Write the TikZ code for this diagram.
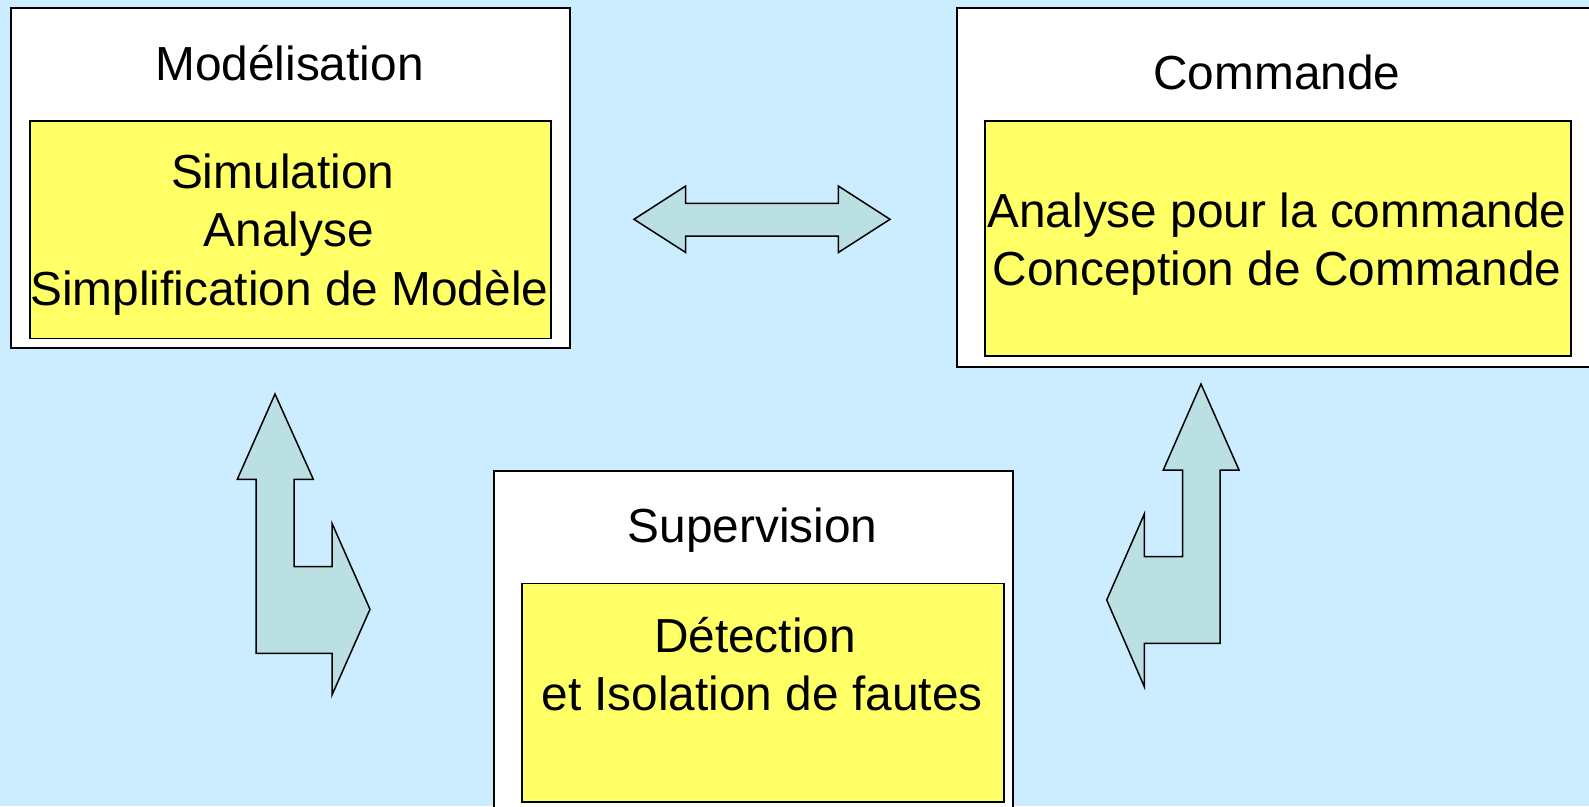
\documentclass[tikz,border=0pt]{standalone}
\usepackage{fontspec}
\setmainfont{Liberation Sans}
\definecolor{bgblue}{HTML}{CCECFF}
\definecolor{panelyellow}{HTML}{FFFF66}
\definecolor{arrowfill}{HTML}{BBE0E3}
\begin{document}
\begin{tikzpicture}[x=1pt,y=-1pt,
  outerbox/.style={draw=black, line width=2pt, fill=white, rectangle, inner sep=0pt, anchor=north west},
  innerbox/.style={draw=black, line width=1.5pt, fill=panelyellow, rectangle, inner sep=0pt, anchor=north west},
  label/.style={anchor=base, inner sep=0pt, font=\fontsize{47.8pt}{57.5pt}\selectfont},
  blockarrow/.style={draw=black, line width=1.5pt, fill=arrowfill, line join=miter}]
  % canvas
  \fill[bgblue] (0,0) rectangle (1589,806);
  \useasboundingbox (0,0) rectangle (1589,806);
  \clip (0,0) rectangle (1589,806);

  % Modelisation block
  \node[outerbox, minimum width=558.4pt, minimum height=340pt] (model) at (10.3,6.7) {};
  \node[innerbox, minimum width=520.7pt, minimum height=217.7pt] (modelin) at (29.3,120) {};
  \node[label] (modeltitle) at (289.5,80) {Modélisation};
  \node[label] (sim) at (282.7,188.3) {Simulation};
  \node[label] (ana) at (288.8,246.7) {Analyse};
  \node[label] (simp) at (289.3,305) {Simplification de Modèle};

  % Commande block
  \node[outerbox, minimum width=660pt, minimum height=359pt] (ctrl) at (956,6.7) {};
  \node[innerbox, minimum width=586pt, minimum height=235pt] (ctrlin) at (984,120) {};
  \node[label] (ctrltitle) at (1277,89.3) {Commande};
  \node[label] (ctrlana) at (1277,227.7) {Analyse pour la commande};
  \node[label] (ctrlconc) at (1277,285) {Conception de Commande};

  % Supervision block
  \node[outerbox, minimum width=519.6pt, minimum height=380pt] (sup) at (492.7,470) {};
  \node[innerbox, minimum width=482.3pt, minimum height=218.3pt] (supin) at (521,582.7) {};
  \node[label] (suptitle) at (752.5,542.7) {Supervision};
  \node[label] (det) at (755,652.7) {Détection};
  \node[label] (iso) at (762,710) {et Isolation de fautes};

  % two-headed arrow between Modelisation and Commande
  \draw[blockarrow] (634,219.3) -- (685.7,186) -- (685.7,203.3) -- (838.3,203.3)
    -- (838.3,186) -- (890,219.3) -- (838.3,252.5) -- (838.3,236)
    -- (685.7,236) -- (685.7,252.5) -- cycle;

  % bent arrow between Modelisation and Supervision
  \draw[blockarrow] (275,394) -- (313.3,479.3) -- (294,479.3) -- (294,566.7)
    -- (332,566.7) -- (332,523.3) -- (370,609.3) -- (332,695) -- (332,653.3)
    -- (256,653.3) -- (256,479.3) -- (237.3,479.3) -- cycle;

  % bent arrow between Supervision and Commande
  \draw[blockarrow] (1201,384) -- (1239,470) -- (1220,470) -- (1220,643.3)
    -- (1144.3,643.3) -- (1144.3,686.7) -- (1106.7,600) -- (1144.3,514)
    -- (1144.3,556.7) -- (1182.7,556.7) -- (1182.7,470) -- (1163.3,470) -- cycle;
\end{tikzpicture}
\end{document}
